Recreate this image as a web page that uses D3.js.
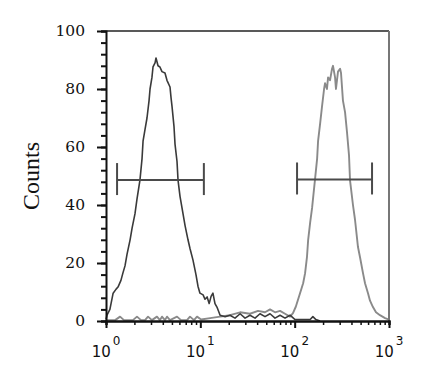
<!DOCTYPE html>
<html><head><meta charset="utf-8">
<script src="https://cdn.jsdelivr.net/npm/d3@7"></script>
<style>body{margin:0;background:#fff}svg{display:block}</style>
</head><body>
<svg id="c" width="429" height="383"></svg>
<script>
// Dark histogram (left peak)
const darkX = [1.0,1.025,1.10,1.19,1.28,1.34,1.44,1.51,1.59,1.67,1.80,1.89,2.03,2.13,2.29,2.41,2.47,2.59,2.72,2.86,2.93,3.07,3.15,3.31,3.39,3.56,3.73,3.92,4.22,4.43,4.77,4.89,5.01,5.26,5.39,5.66,5.80,6.09,6.55,6.88,7.40,7.77,8.36,8.99,9.44,9.91,10.7,11.2,11.8,12.4,13.0,13.6,14.3,15.0,16.2,18.3,20.6,23.3,26.4,29.8,33.6,38.0,42.9,48.5,54.8,61.9,70.0,79.0,89.3,101,114,146,156,168,186];
const darkY = [0.5,2,4,9.6,11,11.7,14,16.5,19,23,28,32,37,42,48.6,56,62,66,70,76,80,84,87.6,89,90.7,88,87.6,86,85.5,83,80.7,77,74,67,61,55,48.6,43,37,33,28,25,21,16,12,9.6,9,7.5,8.3,6,8.5,9.6,6,4.8,2,1.5,2,1,2.5,1,2,1,2.5,1.5,2.5,1,2,1,2,0.5,0.5,0.5,1.5,0.5,0];
// Light histogram (right peak)
const lightX = [1.0,1.25,1.41,1.55,1.93,2.13,2.35,2.59,2.79,3.07,3.47,3.73,3.92,4.22,4.43,4.77,5.66,6.24,7.22,7.77,8.57,9.22,10.2,12.7,16.2,20.6,26.4,33.6,40.9,48.5,54.8,61.9,70.0,79.0,89.3,96.0,103,114,123,129,135,139,146,153,164,173,177,186,195,205,210,220,226,237,249,255,268,274,288,303,310,325,342,359,377,386,415,436,469,493,530,557,599,629,676,728,802,908,1000];
const lightY = [0.3,0.3,1.5,0.3,0.3,1.5,0.3,0.3,1.5,0.3,1.5,0.3,1.5,0.3,1.5,0.3,1.5,0.3,0.3,1.5,0.3,1.5,0.5,1,1.5,2,3,2.5,3.5,3,4,3,3.5,2.5,1.5,2.7,5,9.6,13,16.5,22,28,34,39,48.6,56,62,68,74,80,82,80,84,83,87,88,84,80,86,87,85.5,76,72,65,57,48.6,40,35,25.5,22,16.5,13,9.6,7,4.8,3,2,1,0.5];
// Marker bars: [from, to, level]
const barsX0 = [1.31, 106];
const barsX1 = [10.9, 661];
const barsY = [48.6, 48.8];
const yTicks = [0,20,40,60,80,100];
const xTicks = [1,10,100,1000];
const xExp = ["0","1","2","3"];
const yLabel = "Counts";

const svg = d3.select("#c");
const L=106, R=389, T=31, B=321;
const x = d3.scaleLog().domain([1,1000]).range([L,R]);
const y = d3.scaleLinear().domain([0,100]).range([B,T]);

const mk = (xs,ys)=>xs.map((v,i)=>[v,ys[i]]);
const ln = d3.line().x(d=>x(d[0])).y(d=>y(d[1]));

svg.append("path").attr("d", ln(mk(lightX,lightY))).attr("fill","none")
  .attr("stroke","#8a8a8a").attr("stroke-width",1.9).attr("stroke-linejoin","round");
svg.append("path").attr("d", ln(mk(darkX,darkY))).attr("fill","none")
  .attr("stroke","#3a3a3a").attr("stroke-width",1.6).attr("stroke-linejoin","round");

// bars
barsX0.forEach((v,i)=>{
  const g = svg.append("g").attr("stroke","#4a4a4a").attr("stroke-width",2);
  g.append("line").attr("x1",x(v)).attr("x2",x(barsX1[i])).attr("y1",y(barsY[i])).attr("y2",y(barsY[i]));
  g.append("line").attr("x1",x(v)).attr("x2",x(v)).attr("y1",y(barsY[i])-17).attr("y2",y(barsY[i])+15);
  g.append("line").attr("x1",x(barsX1[i])).attr("x2",x(barsX1[i])).attr("y1",y(barsY[i])-17).attr("y2",y(barsY[i])+15);
});

// frame
svg.append("line").attr("x1",L).attr("x2",R).attr("y1",T).attr("y2",T).attr("stroke","#222").attr("stroke-width",1.5);
svg.append("line").attr("x1",R).attr("x2",R).attr("y1",T).attr("y2",B).attr("stroke","#777").attr("stroke-width",2);

// Y axis
const yMinor = d3.range(0,101,4);
const yAx = svg.append("g").attr("transform",`translate(${L},0)`);
yAx.call(d3.axisLeft(y).tickValues(yMinor).tickSize(5).tickFormat(""));
yAx.call(g=>g.selectAll(".tick line").attr("stroke","#111").attr("stroke-width",2));
yAx.select(".domain").attr("stroke","#111").attr("stroke-width",2);
const yMaj = svg.append("g").attr("transform",`translate(${L},0)`)
  .call(d3.axisLeft(y).tickValues(yTicks).tickSize(9).tickPadding(12));
yMaj.select(".domain").remove();
yMaj.selectAll(".tick line").attr("stroke","#111").attr("stroke-width",2);
yMaj.selectAll(".tick text").attr("font-family","'DejaVu Serif', serif").attr("font-size",15.5).attr("fill","#111");

// X axis
const xMinor = [];
[1,10,100].forEach(d=>{for(let k=2;k<=9;k++) xMinor.push(d*k);});
const xAx = svg.append("g").attr("transform",`translate(0,${B})`);
xAx.call(d3.axisBottom(x).tickValues(xMinor).tickSize(4).tickFormat(""));
xAx.selectAll(".tick line").attr("stroke","#111").attr("stroke-width",1.5);
xAx.select(".domain").attr("stroke","#111").attr("stroke-width",2.5);
const xMaj = svg.append("g").attr("transform",`translate(0,${B})`)
  .call(d3.axisBottom(x).tickValues(xTicks).tickSize(7).tickFormat(""));
xMaj.select(".domain").remove();
xMaj.selectAll(".tick line").attr("stroke","#111").attr("stroke-width",2);

xTicks.forEach((v,i)=>{
  const t = svg.append("text").attr("x",x(v)).attr("y",357).attr("text-anchor","middle")
    .attr("font-family","'DejaVu Sans', sans-serif").attr("font-size",15).attr("fill","#111");
  t.append("tspan").text("10");
  t.append("tspan").attr("dy",-12).attr("dx",2).attr("font-size",12).text(xExp[i]);
});

svg.append("text").attr("transform",`translate(39,${(T+B)/2}) rotate(-90)`)
  .attr("text-anchor","middle").attr("font-family","'Liberation Serif', serif")
  .attr("font-size",24).attr("fill","#111").text(yLabel);
</script>
</body></html>
